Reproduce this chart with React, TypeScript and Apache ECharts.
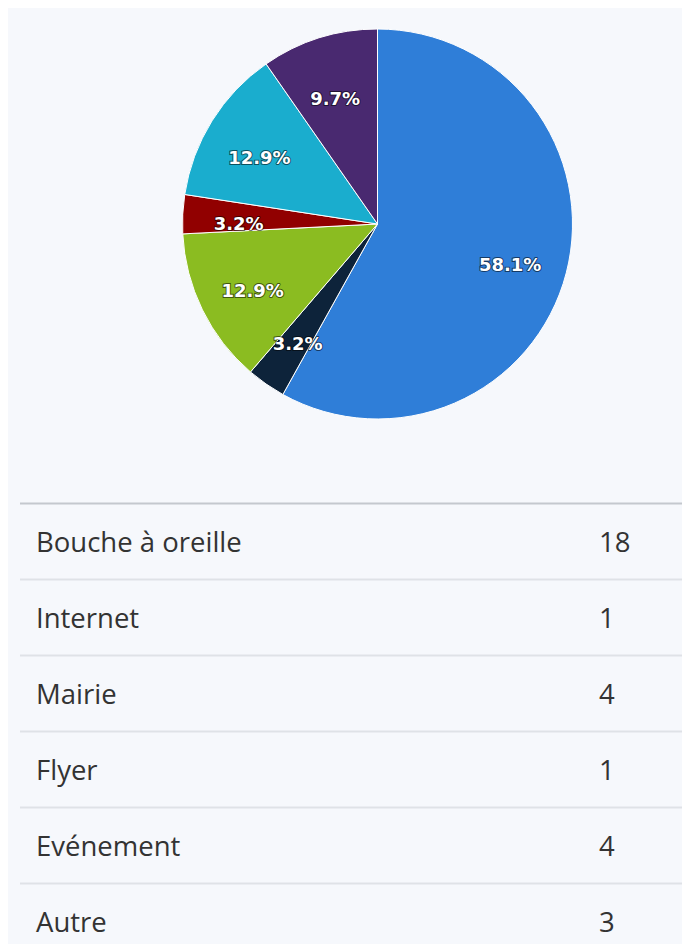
import React, { useEffect, useRef } from "react";
import * as echarts from "echarts";

const categories = ["Bouche à oreille", "Internet", "Mairie", "Flyer", "Evénement", "Autre"];
const counts = [18, 1, 4, 1, 4, 3];
const colors = ["#2f7ed8", "#0d233a", "#8bbc21", "#910000", "#1aadce", "#492970"];

const W = 674;
const H = 936;
const CX = 369.5;
const CY = 216;
const R = 195;
const ROW_TOP = 495.5;
const ROW_H = 76;

export default function App() {
  const ref = useRef<HTMLDivElement>(null);
  useEffect(() => {
    if (!ref.current) return;
    const chart = echarts.init(ref.current, undefined, { renderer: "svg" });
    const data = categories.map((name, i) => ({
      name,
      value: counts[i],
      itemStyle: { color: colors[i] },
    }));
    const graphics: any[] = [];
    graphics.push({
      type: "line",
      shape: { x1: 12, y1: ROW_TOP, x2: W, y2: ROW_TOP },
      style: { stroke: "#c4c8ce", lineWidth: 2 },
      silent: true,
    });
    categories.forEach((name, i) => {
      const cy = ROW_TOP + ROW_H * i + ROW_H / 2;
      graphics.push({
        type: "text",
        x: 28,
        y: cy,
        style: {
          text: name,
          font: "27.5px 'Open Sans'",
          fill: "#333333",
          textVerticalAlign: "middle",
          verticalAlign: "middle",
        },
        silent: true,
      });
      graphics.push({
        type: "text",
        x: 591,
        y: cy,
        style: {
          text: String(counts[i]),
          font: "27.5px 'Open Sans'",
          fill: "#333333",
          textVerticalAlign: "middle",
          verticalAlign: "middle",
        },
        silent: true,
      });
      if (i > 0) {
        const ly = ROW_TOP + ROW_H * i;
        graphics.push({
          type: "line",
          shape: { x1: 12, y1: ly, x2: W, y2: ly },
          style: { stroke: "#dfe2e7", lineWidth: 2 },
          silent: true,
        });
      }
    });
    chart.setOption({
      animation: false,
      backgroundColor: "#f6f8fc",
      series: [
        {
          type: "pie",
          center: [CX, CY],
          radius: [0, R],
          startAngle: 90,
          clockwise: true,
          label: { show: false },
          labelLine: { show: false },
          itemStyle: { borderColor: "#ffffff", borderWidth: 1 },
          emphasis: { disabled: true },
          data,
        },
        {
          type: "pie",
          center: [CX, CY],
          radius: [75, R],
          startAngle: 90,
          clockwise: true,
          silent: true,
          percentPrecision: 1,
          itemStyle: { color: "transparent", borderWidth: 0 },
          label: {
            show: true,
            position: "inside",
            formatter: "{d}%",
            color: "#ffffff",
            fontFamily: "DejaVu Sans",
            fontWeight: "bold",
            fontSize: 18,
            offset: [-1, 6],
            textBorderColor: "rgba(0,0,0,0.55)",
            textBorderWidth: 2,
          },
          labelLine: { show: false },
          emphasis: { disabled: true },
          data: data.map((d) => ({ name: d.name, value: d.value, itemStyle: { color: "transparent" } })),
        },
      ],
      graphic: graphics,
    });
    return () => chart.dispose();
  }, []);
  return (
    <div
      style={{ position: "fixed", left: 8, top: 8, width: W, height: H, overflow: "hidden" }}
    >
      <div ref={ref} style={{ width: W, height: H }} />
    </div>
  );
}
